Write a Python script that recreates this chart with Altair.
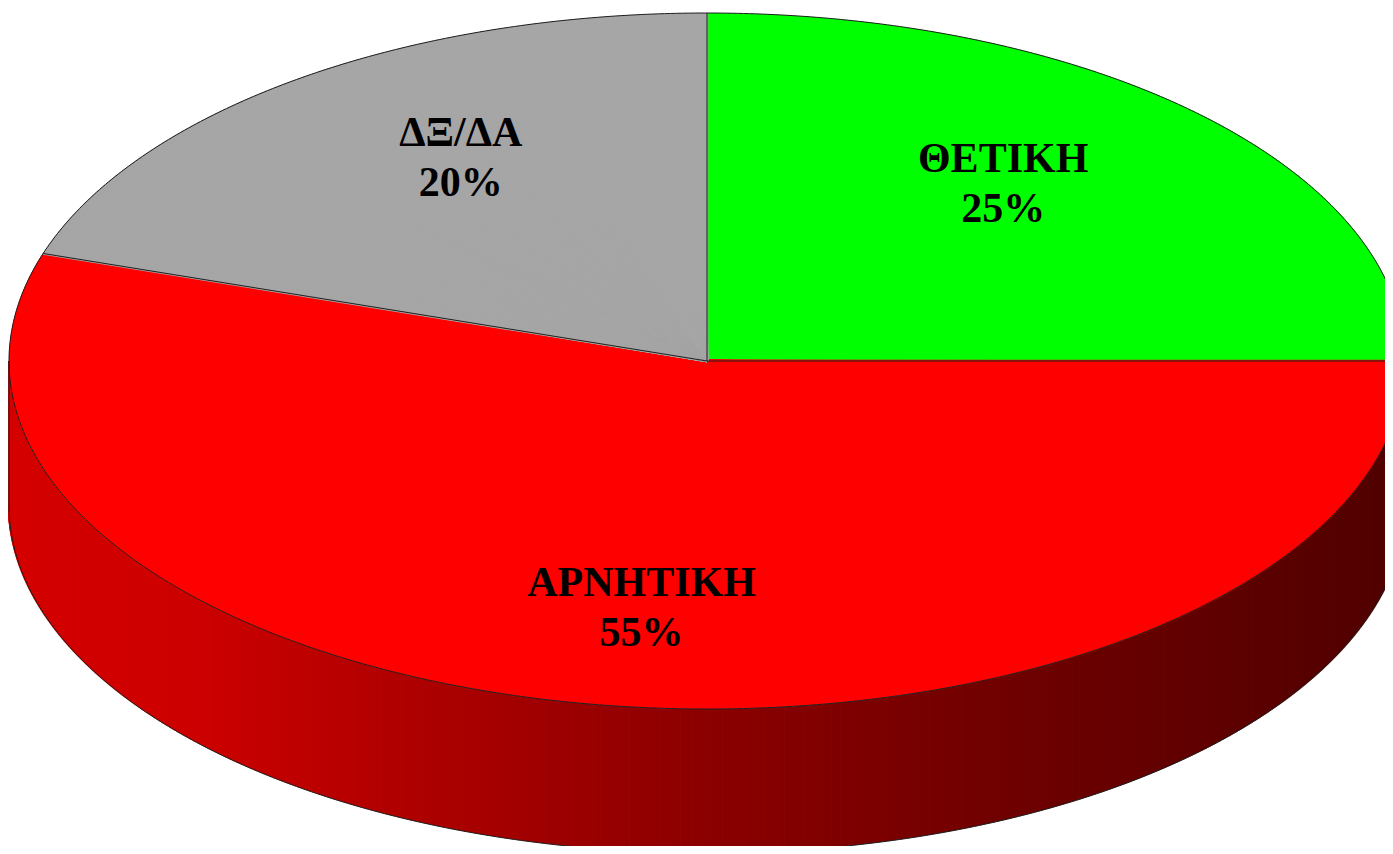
import numpy as np
import pandas as pd
import altair as alt

# ---- data ----
categories = ["ΘΕΤΙΚΗ", "ΑΡΝΗΤΙΚΗ", "ΔΞ/ΔΑ"]
values = [25, 55, 20]
pct_labels = ["25%", "55%", "20%"]

# ---- styling / geometry of the tilted pie (pixels) ----
slice_colors = ["#00ff00", "#ff0000", "#a6a6a6"]
W, H = 1377, 838
CX, CY, RX, RY, DEPTH = 707, 361, 698, 348, 144
STEP = 0.15  # angular sampling in degrees used to fill the wedges

total = float(sum(values))
cum = np.concatenate([[0.0], np.cumsum(values)]) / total * 360.0

# sampled angles inside each slice (top face) - derived from the values
wedge_rows = []
for c, a0, a1 in zip(categories, cum[:-1], cum[1:]):
    for t in np.arange(a0, a1 + 1e-9, STEP):
        wedge_rows.append({"category": c, "theta": float(t)})
wedge_df = pd.DataFrame(wedge_rows)

# front wall (visible half, 90..270 deg clockwise from top)
side_df = pd.DataFrame({"theta": np.arange(90.0, 270.0 + 1e-9, STEP)})

# outline segments
edge_rows = []
for k, t in enumerate(np.arange(0.0, 360.0 + 1e-9, 0.5)):
    edge_rows.append({"seg": "top", "k": k, "theta": float(t), "r": 1, "lift": 0})
for k, t in enumerate(np.arange(90.0, 270.0 + 1e-9, 0.5)):
    edge_rows.append({"seg": "bottom", "k": k, "theta": float(t), "r": 1, "lift": DEPTH})
for i, b in enumerate(cum[:-1]):
    edge_rows.append({"seg": f"rad{i}", "k": 0, "theta": float(b), "r": 0, "lift": 0})
    edge_rows.append({"seg": f"rad{i}", "k": 1, "theta": float(b), "r": 1, "lift": 0})
for t in (90.0, 270.0):
    edge_rows.append({"seg": f"v{t}", "k": 0, "theta": t, "r": 1, "lift": 0})
    edge_rows.append({"seg": f"v{t}", "k": 1, "theta": t, "r": 1, "lift": DEPTH})
edge_df = pd.DataFrame(edge_rows)

# labels at each slice's mid angle
mids = (cum[:-1] + cum[1:]) / 2.0
label_df = pd.DataFrame({
    "category": categories,
    "label": [f"{c}\n{p}" for c, p in zip(categories, pct_labels)],
    "mid": mids,
})

PX = f"{CX} + {RX} * datum.r * sin(datum.theta * PI / 180)"
PY = f"{CY} - {RY} * datum.r * cos(datum.theta * PI / 180) + datum.lift"

xs = alt.Scale(domain=[8, 8 + W])
ys = alt.Scale(domain=[8, 8 + H], reverse=True)

side = (
    alt.Chart(side_df)
    .transform_calculate(r="1", lift="0")
    .transform_calculate(px=PX, py=PY)
    .transform_calculate(pyb=f"datum.py + {DEPTH}")
    .mark_rule(strokeWidth=2.6, clip=True)
    .encode(
        x=alt.X("px:Q", scale=xs, axis=None),
        y=alt.Y("py:Q", scale=ys, axis=None),
        y2="pyb:Q",
        color=alt.Color(
            "px:Q",
            scale=alt.Scale(
                domain=[9, 200, 400, 700, 1000, 1405],
                range=["#d50000", "#cc0000", "#b00000", "#8c0000", "#700000", "#500000"],
                interpolate="rgb",
            ),
            legend=None,
        ),
    )
)

wedges = (
    alt.Chart(wedge_df)
    .transform_calculate(r="1", lift="0")
    .transform_calculate(px=PX, py=PY, ox=str(CX), oy=str(CY))
    .mark_rule(strokeWidth=2.6, clip=True)
    .encode(
        x=alt.X("px:Q", scale=xs, axis=None),
        y=alt.Y("py:Q", scale=ys, axis=None),
        x2="ox:Q",
        y2="oy:Q",
        color=alt.Color(
            "category:N",
            scale=alt.Scale(domain=categories, range=slice_colors),
            legend=None,
        ),
    )
)

edges = (
    alt.Chart(edge_df)
    .transform_calculate(px=PX, py=PY)
    .mark_line(stroke="#1e1e1e", strokeWidth=1, clip=True)
    .encode(
        x=alt.X("px:Q", scale=xs, axis=None),
        y=alt.Y("py:Q", scale=ys, axis=None),
        detail="seg:N",
        order="k:Q",
    )
)

labels = (
    alt.Chart(label_df)
    .transform_calculate(
        lx=f"{CX} + {RX} * 0.6 * sin(datum.mid * PI / 180)",
        ly=f"{CY} - {RY} * 0.72 * cos(datum.mid * PI / 180)",
    )
    .mark_text(
        font="Liberation Serif",
        fontSize=42,
        fontWeight="bold",
        lineBreak="\n",
        lineHeight=50,
        color="black",
        align="center",
        baseline="middle",
        dy=-25,
    )
    .encode(
        x=alt.X("lx:Q", scale=xs, axis=None),
        y=alt.Y("ly:Q", scale=ys, axis=None),
        text="label:N",
    )
)

chart = (
    alt.layer(side, wedges, edges, labels)
    .resolve_scale(color="independent")
    .properties(width=W, height=H, padding=0, autosize=alt.AutoSizeParams(type="none"), background="white")
    .configure_view(stroke=None)
)

chart.save("out.html", embed_options={"renderer": "svg", "actions": False})
